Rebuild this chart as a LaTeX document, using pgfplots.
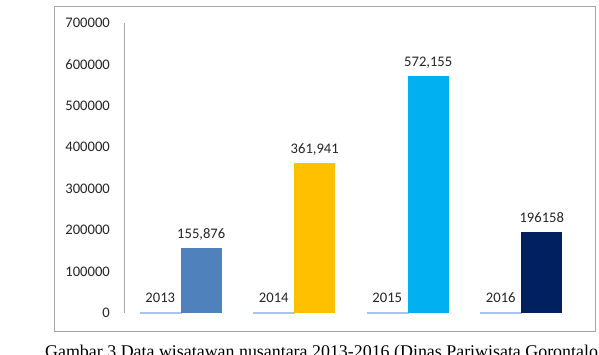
\documentclass[border=0pt]{standalone}
\usepackage{pgfplots}
\pgfplotsset{compat=1.18}
\usepackage{fontspec}
\setmainfont{Carlito}
\newfontfamily\capfont{Liberation Serif}
\definecolor{cA}{HTML}{4F81BD}
\definecolor{cB}{HTML}{FFC000}
\definecolor{cC}{HTML}{00B0F0}
\definecolor{cD}{HTML}{002060}
\definecolor{thin}{HTML}{A9C4EB}
\definecolor{frame}{HTML}{A6A6A6}
\definecolor{txt}{HTML}{262626}
\begin{document}
\begin{tikzpicture}
\useasboundingbox (0,0) rectangle (599pt,354pt);
\fill[white] (0,0) rectangle (599pt,354pt);
\draw[color=frame, line width=0.9pt] (54pt,23pt) rectangle (595pt,348pt);
\begin{axis}[
  at={(124pt,41pt)}, anchor=south west,
  scale only axis, width=454pt, height=290pt,
  xmin=-0.5, xmax=3.5, ymin=0, ymax=700000,
  axis x line=none, axis y line*=left,
  y axis line style={color=frame, line width=0.8pt},
  ytick={0,100000,200000,300000,400000,500000,600000,700000},
  scaled y ticks=false,
  major tick length=0pt,
  /pgf/number format/assume math mode=true,
  /pgf/number format/1000 sep={},
  /pgf/number format/fixed,
  yticklabel style={font=\fontsize{14.6}{17}\selectfont, color=txt, inner sep=0pt, xshift=-14pt},
  every node near coord/.append style={font=\fontsize{14.6}{17}\selectfont, color=txt, text depth=0pt, inner sep=0pt, yshift=9.5pt},
  clip=false,
]
\addplot[ybar, bar width=41pt, bar shift=-20.5pt, fill=thin, draw=thin, line width=0.3pt, nodes near coords,
  every node near coord/.append style={xshift=-20.5pt}] coordinates {(0,2013) (1,2014) (2,2015) (3,2016)};
\addplot[ybar, bar width=41pt, bar shift=20.5pt, fill=cA, draw=none, nodes near coords={155,876},
  every node near coord/.append style={xshift=20.5pt}] coordinates {(0,155876)};
\addplot[ybar, bar width=41pt, bar shift=20.5pt, fill=cB, draw=none, nodes near coords={361,941},
  every node near coord/.append style={xshift=20.5pt}] coordinates {(1,361941)};
\addplot[ybar, bar width=41pt, bar shift=20.5pt, fill=cC, draw=none, nodes near coords={572,155},
  every node near coord/.append style={xshift=20.5pt}] coordinates {(2,572155)};
\addplot[ybar, bar width=41pt, bar shift=20.5pt, fill=cD, draw=none, nodes near coords={196158},
  every node near coord/.append style={xshift=20.5pt}] coordinates {(3,196158)};
\end{axis}
\node[anchor=base west, inner sep=0pt, font=\capfont\fontsize{17.9}{20}\selectfont] at (45pt,-3.8pt) {Gambar 3 Data wisatawan nusantara 2013-2016 (Dinas Pariwisata Gorontalo};
\end{tikzpicture}
\end{document}
